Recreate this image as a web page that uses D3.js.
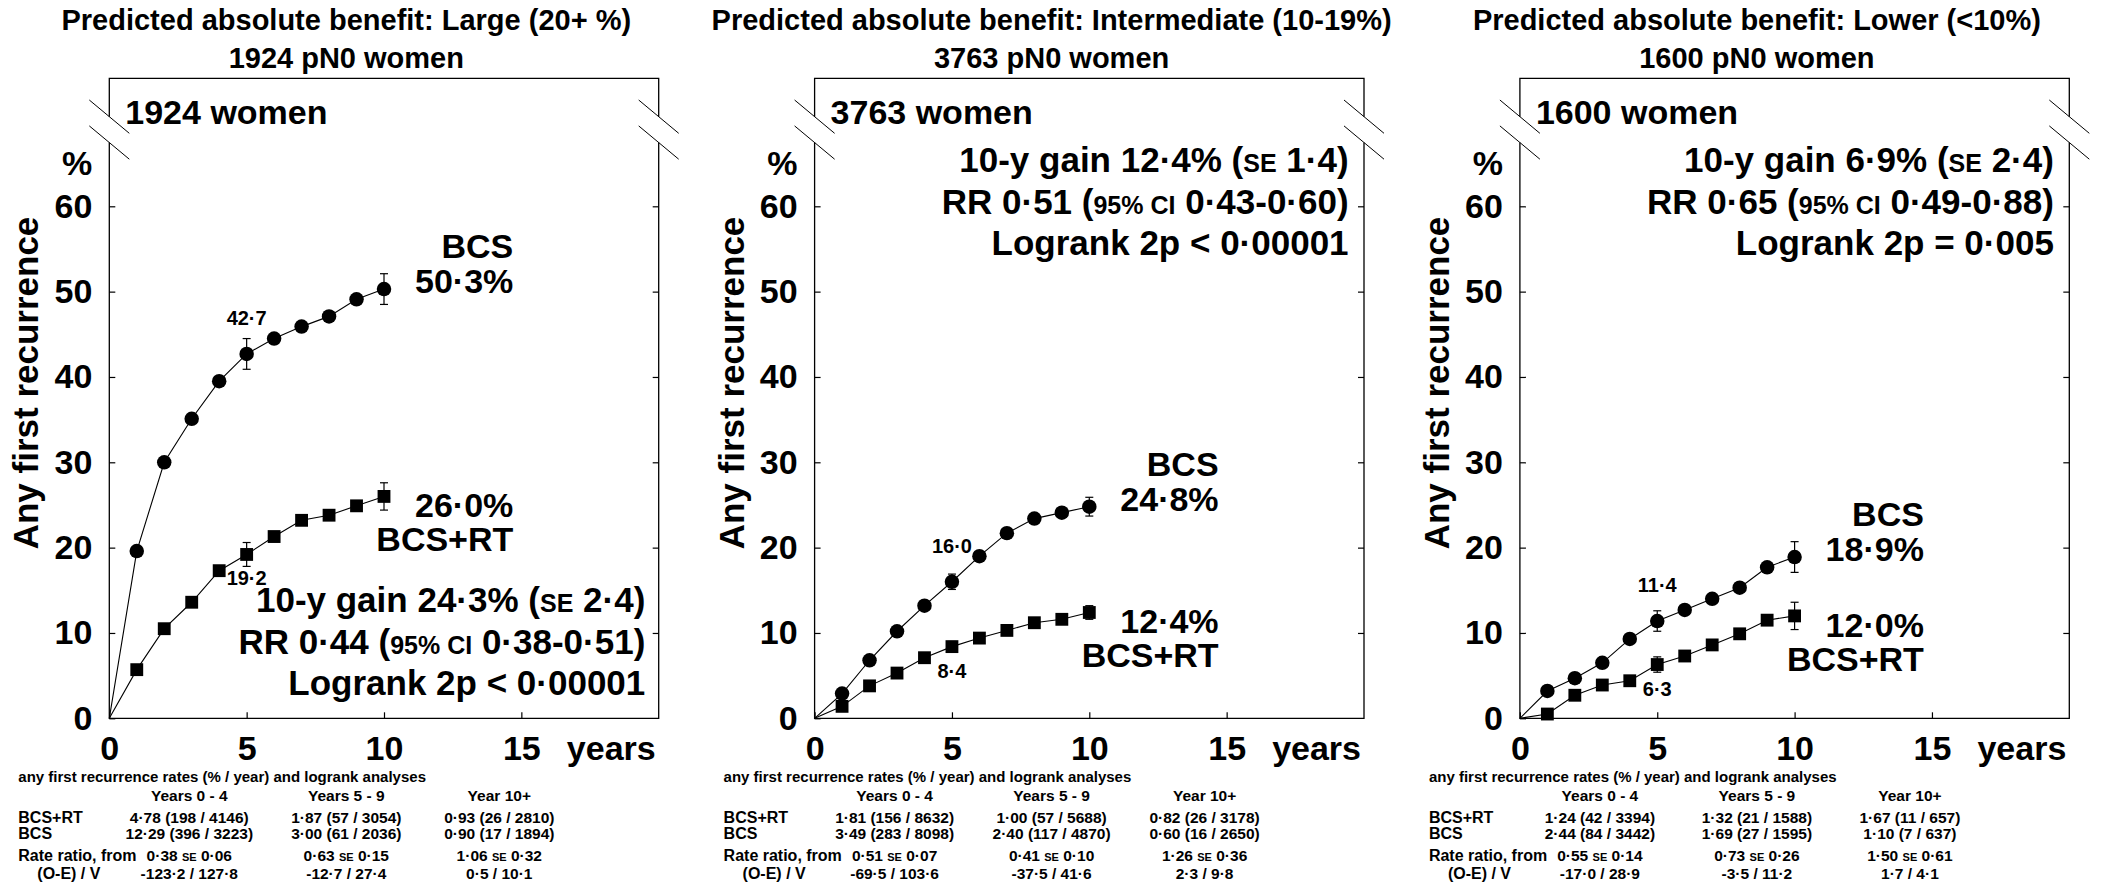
<!DOCTYPE html>
<html>
<head>
<meta charset="utf-8">
<script src="https://cdn.jsdelivr.net/npm/d3@7"></script>
<style>
  body { margin: 0; background: #fff; }
  svg { display: block; }
  text { font-family: "Liberation Sans", Arial, Helvetica, sans-serif; font-weight: bold; fill: #000; white-space: pre; }
</style>
</head>
<body>
<script>
// ---- data ----
const years = [1, 2, 3, 4, 5, 6, 7, 8, 9, 10];

const titles = [
  "Predicted absolute benefit: Large (20+ %)",
  "Predicted absolute benefit: Intermediate (10-19%)",
  "Predicted absolute benefit: Lower (<10%)"
];
const subtitles = ["1924 pN0 women", "3763 pN0 women", "1600 pN0 women"];
const cohortLabels = ["1924 women", "3763 women", "1600 women"];

// cumulative any first recurrence (%), years 1..10
const bcs = [
  [19.6, 30.0, 35.1, 39.5, 42.7, 44.5, 45.9, 47.1, 49.1, 50.3],
  [2.9, 6.8, 10.2, 13.2, 16.0, 19.0, 21.7, 23.4, 24.1, 24.8],
  [3.2, 4.7, 6.5, 9.3, 11.4, 12.7, 14.0, 15.3, 17.7, 18.9]
];
const bcsRT = [
  [5.7, 10.5, 13.6, 17.3, 19.2, 21.3, 23.2, 23.8, 24.9, 26.0],
  [1.4, 3.8, 5.3, 7.1, 8.4, 9.4, 10.3, 11.2, 11.6, 12.4],
  [0.5, 2.7, 3.9, 4.4, 6.3, 7.3, 8.6, 9.9, 11.5, 12.0]
];

// standard errors shown at years 5 and 10
const errYears = [5, 10];
const bcsSE = [[1.8, 1.8], [0.9, 1.1], [1.2, 1.8]];
const bcsRTSE = [[1.4, 1.6], [0.6, 0.8], [0.9, 1.6]];

// {..} = small capitals
const gainLines = [
  "10-y gain 24·3% ({SE} 2·4)",
  "10-y gain 12·4% ({SE} 1·4)",
  "10-y gain 6·9% ({SE} 2·4)"
];
const rrLines = [
  "RR 0·44 ({95% CI} 0·38-0·51)",
  "RR 0·51 ({95% CI} 0·43-0·60)",
  "RR 0·65 ({95% CI} 0·49-0·88)"
];
const logrankLines = [
  "Logrank 2p < 0·00001",
  "Logrank 2p < 0·00001",
  "Logrank 2p = 0·005"
];

const yTicks = [0, 10, 20, 30, 40, 50, 60];
const xTicks = [0, 5, 10, 15];

// table under each panel
const tableTitle = "any first recurrence rates (% / year) and logrank analyses";
const periods = ["Years 0 - 4", "Years 5 - 9", "Year 10+"];
const rowLabels = ["BCS+RT", "BCS", "Rate ratio, from", "(O-E) / V"];
const rtRates = [
  ["4·78 (198 / 4146)", "1·87 (57 / 3054)", "0·93 (26 / 2810)"],
  ["1·81 (156 / 8632)", "1·00 (57 / 5688)", "0·82 (26 / 3178)"],
  ["1·24 (42 / 3394)", "1·32 (21 / 1588)", "1·67 (11 / 657)"]
];
const bcsRates = [
  ["12·29 (396 / 3223)", "3·00 (61 / 2036)", "0·90 (17 / 1894)"],
  ["3·49 (283 / 8098)", "2·40 (117 / 4870)", "0·60 (16 / 2650)"],
  ["2·44 (84 / 3442)", "1·69 (27 / 1595)", "1·10 (7 / 637)"]
];
const rateRatios = [
  ["0·38 {SE} 0·06", "0·63 {SE} 0·15", "1·06 {SE} 0·32"],
  ["0·51 {SE} 0·07", "0·41 {SE} 0·10", "1·26 {SE} 0·36"],
  ["0·55 {SE} 0·14", "0·73 {SE} 0·26", "1·50 {SE} 0·61"]
];
const oeV = [
  ["-123·2 / 127·8", "-12·7 / 27·4", "0·5 / 10·1"],
  ["-69·5 / 103·6", "-37·5 / 41·6", "2·3 / 9·8"],
  ["-17·0 / 28·9", "-3·5 / 11·2", "1·7 / 4·1"]
];

// ---- layout ----
const W = 2101, H = 885;
const boxW = 549.4;
const boxTop = 78.3, boxBottom = 718.3;
const statsAtTop = [false, true, true];

const svg = d3.select("body").append("svg")
  .attr("width", W)
  .attr("height", H);

const fmt = v => d3.format(".1f")(v).replace(".", "·");

// text with {small caps} parts
function richText(sel, str, small) {
  str.split(/(\{[^}]*\})/).forEach(p => {
    if (!p) return;
    if (p[0] === "{") sel.append("tspan").attr("font-size", small).text(p.slice(1, -1));
    else sel.append("tspan").text(p);
  });
  return sel;
}

titles.forEach((title, i) => {
  const left = 109.3 + i * 705.3;
  const right = left + boxW;
  const x = d3.scaleLinear().domain([0, 20]).range([left, right]);
  const y = d3.scaleLinear().domain([0, 75]).range([boxBottom, boxTop]);
  const g = svg.append("g");

  // titles
  g.append("text").attr("x", left + 237).attr("y", 30)
    .attr("text-anchor", "middle").attr("font-size", 29).text(title);
  g.append("text").attr("x", left + 237).attr("y", 68)
    .attr("text-anchor", "middle").attr("font-size", 29).text(subtitles[i]);

  // frame with axis breaks on both sides
  const gapTop = 116.7, gapBottom = 142.5;
  const frame = g.append("g").attr("stroke", "#000").attr("stroke-width", 1.3).attr("fill", "none");
  frame.append("path").attr("d",
    `M${left},${gapTop}V${boxTop}H${right}V${gapTop}` +
    `M${left},${gapBottom}V${boxBottom}H${right}V${gapBottom}`);
  [left, right].forEach(ex => {
    frame.append("line").attr("x1", ex - 20).attr("y1", 100).attr("x2", ex + 20).attr("y2", 133.3).attr("stroke-width", 1);
    frame.append("line").attr("x1", ex - 20).attr("y1", 125.9).attr("x2", ex + 20).attr("y2", 159.2).attr("stroke-width", 1);
  });

  // axes
  const yAxis = g.append("g").attr("transform", `translate(${left},0)`)
    .call(d3.axisLeft(y).tickValues(yTicks).tickSize(-6).tickPadding(17));
  const yAxisR = g.append("g").attr("transform", `translate(${right},0)`)
    .call(d3.axisRight(y).tickValues(yTicks.slice(1)).tickSize(-6).tickFormat(""));
  const xAxis = g.append("g").attr("transform", `translate(0,${boxBottom})`)
    .call(d3.axisBottom(x).tickValues(xTicks).tickSize(-6).tickPadding(18));
  [yAxis, yAxisR, xAxis].forEach(a => {
    a.select(".domain").remove();
    a.selectAll("line").attr("stroke", "#000").attr("stroke-width", 1.2);
    a.selectAll("text").attr("font-size", 34).attr("font-family", null).attr("fill", "#000");
  });

  g.append("text").attr("x", right - 3).attr("y", 760)
    .attr("text-anchor", "end").attr("font-size", 34).text("years");
  g.append("text").attr("x", left - 17).attr("y", 175)
    .attr("text-anchor", "end").attr("font-size", 34).text("%");
  g.append("text").attr("transform", `translate(${left - 71},383) rotate(-90)`)
    .attr("text-anchor", "middle").attr("font-size", 35).text("Any first recurrence");

  g.append("text").attr("x", left + 16).attr("y", 124)
    .attr("font-size", 34).text(cohortLabels[i]);

  // curves
  const line = d3.line().x(d => x(d[0])).y(d => y(d[1]));
  const series = [
    { vals: bcs[i], se: bcsSE[i], sym: d3.symbolCircle, size: 165 },
    { vals: bcsRT[i], se: bcsRTSE[i], sym: d3.symbolSquare, size: 165 }
  ];
  series.forEach(s => {
    const pts = [[0, 0]].concat(years.map((yr, k) => [yr, s.vals[k]]));
    g.append("path").attr("d", line(pts))
      .attr("fill", "none").attr("stroke", "#000").attr("stroke-width", 1.1);

    errYears.forEach((ey, k) => {
      const v = s.vals[years.indexOf(ey)];
      const e = g.append("g").attr("stroke", "#000").attr("stroke-width", 1.2);
      e.append("line").attr("x1", x(ey)).attr("x2", x(ey))
        .attr("y1", y(v - s.se[k])).attr("y2", y(v + s.se[k]));
      [v - s.se[k], v + s.se[k]].forEach(c => {
        e.append("line").attr("x1", x(ey) - 4).attr("x2", x(ey) + 4)
          .attr("y1", y(c)).attr("y2", y(c));
      });
    });

    g.selectAll(null).data(years).enter().append("path")
      .attr("d", d3.symbol().type(s.sym).size(s.size))
      .attr("transform", (d, k) => `translate(${x(d)},${y(s.vals[k])})`)
      .attr("fill", "#000");
  });

  // year-5 values
  const b5 = bcs[i][4], r5 = bcsRT[i][4];
  g.append("text").attr("x", x(5)).attr("y", y(b5) - 29)
    .attr("text-anchor", "middle").attr("font-size", 20).text(fmt(b5));
  g.append("text").attr("x", x(5)).attr("y", y(r5) + 31)
    .attr("text-anchor", "middle").attr("font-size", 20).text(fmt(r5));

  // end labels
  const b10 = bcs[i][9], r10 = bcsRT[i][9];
  const lx = left + 404;
  g.append("text").attr("x", lx).attr("y", y(b10) - 31).attr("text-anchor", "end").attr("font-size", 34).text("BCS");
  g.append("text").attr("x", lx).attr("y", y(b10) + 4).attr("text-anchor", "end").attr("font-size", 34).text(fmt(b10) + "%");
  g.append("text").attr("x", lx).attr("y", y(r10) + 21).attr("text-anchor", "end").attr("font-size", 34).text(fmt(r10) + "%");
  g.append("text").attr("x", lx).attr("y", y(r10) + 55).attr("text-anchor", "end").attr("font-size", 34).text("BCS+RT");

  // summary statistics
  const sTop = statsAtTop[i] ? 172 : 612;
  const sx = left + (statsAtTop[i] ? 534 : 536);
  [gainLines[i], rrLines[i], logrankLines[i]].forEach((s, k) => {
    richText(g.append("text").attr("x", sx).attr("y", sTop + k * 41.5)
      .attr("text-anchor", "end").attr("font-size", 35), s, 25);
  });

  // rates table
  const t = g.append("g");
  const colX = [left + 80, left + 237, left + 390];
  const tx = left - 91;
  t.append("text").attr("x", tx).attr("y", 782).attr("font-size", 15).text(tableTitle);
  periods.forEach((p, c) => t.append("text").attr("x", colX[c]).attr("y", 801)
    .attr("text-anchor", "middle").attr("font-size", 15.5).text(p));
  const rowY = [823, 839, 861, 879];
  const rowX = [tx, tx, tx, left - 72];
  rowLabels.forEach((r, k) => t.append("text").attr("x", rowX[k]).attr("y", rowY[k])
    .attr("font-size", 16).text(r));
  [rtRates[i], bcsRates[i], rateRatios[i], oeV[i]].forEach((row, k) => {
    row.forEach((cell, c) => {
      richText(t.append("text").attr("x", colX[c]).attr("y", rowY[k])
        .attr("text-anchor", "middle").attr("font-size", 15.5), cell, 11);
    });
  });
});
</script>
</body>
</html>
